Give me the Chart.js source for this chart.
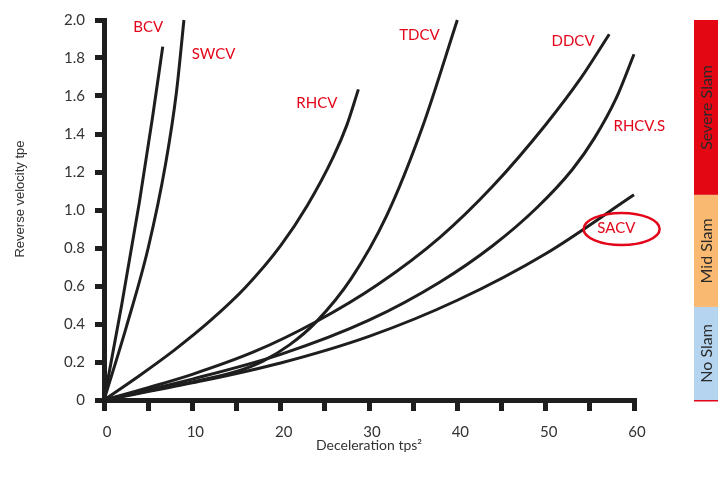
<!DOCTYPE html>
<html>
<head>
<meta charset="utf-8">
<script src="https://cdn.jsdelivr.net/npm/chart.js@4.4.1/dist/chart.umd.min.js"></script>
<style>
  html, body { margin: 0; padding: 0; background: #fff; }
  #wrap { width: 724px; height: 484px; }
</style>
</head>
<body>
<div id="wrap"><canvas id="chart" width="724" height="484"></canvas></div>
<script>
// curve values (x = deceleration, y = reverse velocity)
const bcvX = [0, 2, 4, 5.5, 6.65];
const bcvY = [0, 0.5, 1.04, 1.49, 1.86];
const swcvX = [0, 2.5, 5, 7, 8.2, 9.05];
const swcvY = [0, 0.38, 0.8, 1.25, 1.62, 2.0];
const rhcvX = [0, 4, 8, 12, 16, 20, 23, 26, 27.5, 28.8];
const rhcvY = [0, 0.128, 0.264, 0.416, 0.592, 0.812, 1.022, 1.283, 1.448, 1.635];
const tdcvX = [0, 5, 10, 15, 18, 21, 24, 28, 32, 36, 40];
const tdcvY = [0, 0.047, 0.095, 0.15, 0.205, 0.29, 0.41, 0.64, 0.97, 1.43, 2.0];
const ddcvX = [0, 5, 10, 17, 24, 31, 38, 44, 50, 54, 57.2];
const ddcvY = [0, 0.065, 0.135, 0.254, 0.412, 0.608, 0.855, 1.125, 1.449, 1.695, 1.925];
const rhcvsX = [0, 10, 20, 30, 38, 44, 49, 53, 55.5, 58, 60];
const rhcvsY = [0, 0.11, 0.24, 0.42, 0.62, 0.812, 1.012, 1.212, 1.377, 1.59, 1.82];
const sacvX = [0, 10, 20, 30, 40, 50, 60];
const sacvY = [0, 0.09, 0.195, 0.335, 0.525, 0.77, 1.08];

const curveNames = ['BCV', 'SWCV', 'RHCV', 'TDCV', 'DDCV', 'RHCV.S', 'SACV'];
// where each curve name sits (data units)
const nameX = [5.0, 12.4, 24.1, 35.7, 53.1, 60.6, 58.0];
const nameY = [1.96, 1.82, 1.56, 1.92, 1.89, 1.44, 0.905];
const ringAt = [58.6, 0.9];

// slam zones on the right
const zoneNames = ['No Slam', 'Mid Slam', 'Severe Slam'];
const zoneFrom = [0, 0.49, 1.08];
const zoneTo = [0.49, 1.08, 2.0];
const zoneColors = ['#b4d4f0', '#f9b970', '#e30613'];

const RED = '#e3061b';
const INK = '#1e1e1e';
const FONT = 'Lato, "DejaVu Sans", sans-serif';

function pts(xs, ys) {
    return xs.map((x, i) => ({ x: x, y: ys[i] }));
}

const curves = [
    pts(bcvX, bcvY), pts(swcvX, swcvY), pts(rhcvX, rhcvY), pts(tdcvX, tdcvY),
    pts(ddcvX, ddcvY), pts(rhcvsX, rhcvsY), pts(sacvX, sacvY)
];

const datasets = curves.map((data, i) => ({
    label: curveNames[i],
    data: data,
    borderColor: INK,
    borderWidth: 3,
    pointRadius: 0,
    fill: false,
    cubicInterpolationMode: 'monotone',
    clip: false
}));

// names, SACV ring, y title and the zone bar
const extras = {
    id: 'extras',
    afterDatasetsDraw(chart) {
        const ctx = chart.ctx;
        const xs = chart.scales.x;
        const ys = chart.scales.y;
        ctx.save();
        ctx.font = '15px ' + FONT;
        ctx.fillStyle = RED;
        ctx.textAlign = 'center';
        ctx.textBaseline = 'middle';
        curveNames.forEach((n, i) => {
            ctx.fillText(n, xs.getPixelForValue(nameX[i]), ys.getPixelForValue(nameY[i]));
        });
        // ring round SACV
        ctx.strokeStyle = RED;
        ctx.lineWidth = 2.5;
        ctx.beginPath();
        ctx.ellipse(xs.getPixelForValue(ringAt[0]), ys.getPixelForValue(ringAt[1]), 38, 16, 0, 0, Math.PI * 2);
        ctx.stroke();

        // y axis title
        ctx.save();
        ctx.translate(20, 199);
        ctx.rotate(-Math.PI / 2);
        ctx.fillStyle = '#333';
        ctx.font = '13px "Liberation Sans", Arial, sans-serif';
        ctx.fillText('Reverse velocity tpe', 0, 0);
        ctx.restore();

        // zone bar
        const bx = 694, bw = 24;
        zoneNames.forEach((n, i) => {
            const top = ys.getPixelForValue(zoneTo[i]);
            const bot = ys.getPixelForValue(zoneFrom[i]);
            ctx.fillStyle = zoneColors[i];
            ctx.fillRect(bx, top, bw, bot - top);
            ctx.save();
            ctx.translate(bx + bw / 2 + 1, (top + bot) / 2);
            ctx.rotate(-Math.PI / 2);
            ctx.fillStyle = '#2a2a2a';
            ctx.font = '16px ' + FONT;
            ctx.fillText(n, 0, 0);
            ctx.restore();
        });
        ctx.fillStyle = RED;
        ctx.fillRect(bx, ys.getPixelForValue(0), bw, 1.5);
        ctx.restore();
    }
};

new Chart(document.getElementById('chart'), {
    type: 'line',
    data: { datasets: datasets },
    options: {
        responsive: false,
        animation: false,
        layout: { padding: { top: 20, right: 90, left: 0, bottom: 0 } },
        plugins: {
            legend: { display: false },
            tooltip: { enabled: false }
        },
        scales: {
            x: {
                type: 'linear',
                min: 0,
                max: 60,
                afterFit(s) { s.height = 84; },
                border: { color: INK, width: 5 },
                grid: { drawOnChartArea: false, color: INK, lineWidth: 5, tickLength: 11 },
                ticks: {
                    stepSize: 5,
                    padding: 12,
                    labelOffset: 3,
                    color: '#333',
                    font: { family: FONT, size: 15 },
                    callback: v => (v % 10 === 0 ? String(v) : '')
                },
                title: {
                    display: true,
                    text: 'Deceleration tps²',
                    color: '#333',
                    font: { family: FONT, size: 14 },
                    padding: { top: 0, bottom: 30 }
                }
            },
            y: {
                min: 0,
                max: 2,
                afterFit(s) { s.width = 104; },
                border: { color: INK, width: 5 },
                grid: { drawOnChartArea: false, color: INK, lineWidth: 5, tickLength: 9 },
                ticks: {
                    stepSize: 0.2,
                    padding: 10,
                    color: '#333',
                    font: { family: FONT, size: 15 },
                    callback: v => (Math.abs(v) < 1e-9 ? '0' : v.toFixed(1))
                }
            }
        }
    },
    plugins: [extras]
});
</script>
</body>
</html>
